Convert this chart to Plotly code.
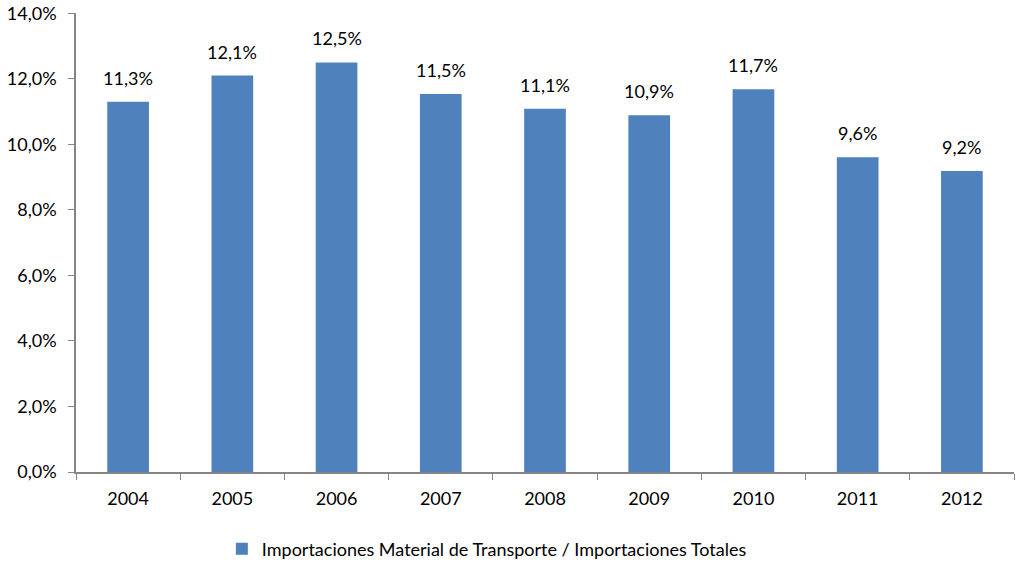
import plotly.graph_objects as go

years = ["2004", "2005", "2006", "2007", "2008", "2009", "2010", "2011", "2012"]
values = [0.1130, 0.1210, 0.1250, 0.1154, 0.1109, 0.1089, 0.1168, 0.0961, 0.0919]
series_name = "Importaciones Material de Transporte / Importaciones Totales"

FONT = "Lato, Open Sans, sans-serif"
AXIS = "#868686"
FS = 18

fig = go.Figure(
    go.Bar(
        x=years,
        y=values,
        name=series_name,
        marker=dict(color="#4F81BD", line=dict(width=0)),
        width=0.4,
        showlegend=True,
    )
)

for i, v in enumerate(values):
    fig.add_annotation(
        x=i,
        y=v,
        xref="x",
        yref="y",
        text=f"{v*100:.1f}%".replace(".", ","),
        showarrow=False,
        yanchor="middle",
        yshift=24,
        font=dict(family=FONT, size=FS, color="#000000"),
    )

fig.update_layout(
    width=1018,
    height=563,
    separators=",.",
    paper_bgcolor="white",
    plot_bgcolor="white",
    margin=dict(l=76, r=4, t=13, b=91, autoexpand=False),
    font=dict(family=FONT, size=FS, color="#000000"),
    showlegend=True,
    legend=dict(
        orientation="h",
        x=0.438,
        xanchor="center",
        y=-0.168,
        yanchor="middle",
        font=dict(family=FONT, size=FS, color="#000000"),
        itemwidth=30,
    ),
    bargap=0.6,
)

fig.update_xaxes(
    type="category",
    categoryorder="array",
    categoryarray=years,
    showline=True,
    linecolor=AXIS,
    linewidth=1.5,
    ticks="outside",
    tickson="boundaries",
    ticklen=6,
    tickcolor=AXIS,
    showgrid=False,
    ticklabelstandoff=10,
    tickfont=dict(family=FONT, size=FS),
)

fig.update_yaxes(
    range=[0, 0.1401],
    tickvals=[0, 0.02, 0.04, 0.06, 0.08, 0.10, 0.12, 0.14],
    tickformat=".1%",
    showline=True,
    linecolor=AXIS,
    linewidth=1.5,
    ticks="outside",
    ticklen=6,
    tickcolor=AXIS,
    showgrid=False,
    zeroline=False,
    ticklabelstandoff=8,
    ticklabeloverflow="allow",
    tickfont=dict(family=FONT, size=FS),
)

fig.write_html(
    "out.html",
    config={"displayModeBar": False},
    post_script="document.body.style.margin='0px';",
)
